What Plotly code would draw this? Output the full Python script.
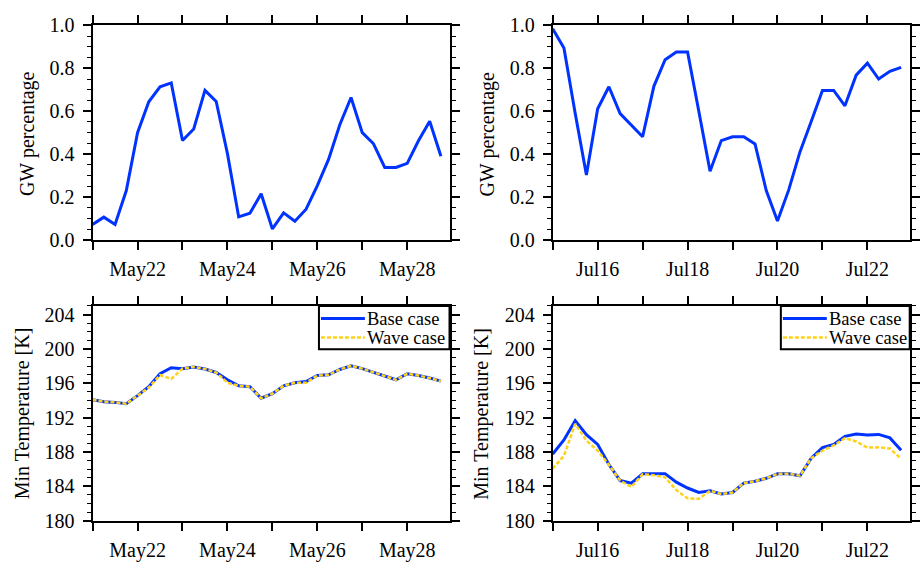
import pandas as pd
import plotly.graph_objects as go

# ---------------- data ----------------
may_times = pd.date_range("2000-05-21 00:00", periods=32, freq="6h")
jul_times = pd.date_range("2000-07-15 00:00", periods=32, freq="6h")

may_gw = [0.072, 0.106, 0.072, 0.23, 0.50, 0.644, 0.714, 0.732,
          0.463, 0.517, 0.697, 0.645, 0.402, 0.107, 0.124, 0.215,
          0.051, 0.126, 0.087, 0.143, 0.253, 0.375, 0.537, 0.664,
          0.50, 0.448, 0.338, 0.338, 0.357, 0.462, 0.553, 0.39]

jul_gw = [0.985, 0.895, 0.59, 0.302, 0.611, 0.714, 0.589, 0.537,
          0.481, 0.716, 0.84, 0.876, 0.876, 0.60, 0.32, 0.463,
          0.481, 0.481, 0.447, 0.23, 0.088, 0.233, 0.41, 0.552,
          0.697, 0.697, 0.625, 0.768, 0.824, 0.75, 0.786, 0.804]

may_base = [194.07, 193.85, 193.77, 193.62, 194.56, 195.6, 197.1, 197.8,
            197.7, 197.9, 197.65, 197.25, 196.4, 195.7, 195.6, 194.26,
            194.78, 195.7, 196.05, 196.2, 196.9, 196.98, 197.6, 198.03,
            197.7, 197.25, 196.8, 196.4, 197.1, 196.9, 196.6, 196.24]
may_wave = [194.07, 193.85, 193.77, 193.62, 194.56, 195.5, 196.95, 196.5,
            197.7, 197.9, 197.65, 197.25, 196.05, 195.7, 195.6, 194.26,
            194.78, 195.7, 196.05, 196.05, 196.9, 196.98, 197.6, 198.03,
            197.7, 197.25, 196.8, 196.4, 197.1, 196.9, 196.6, 196.24]

jul_base = [187.76, 189.4, 191.65, 190.0, 188.88, 186.53, 184.67, 184.37,
            185.45, 185.47, 185.47, 184.48, 183.8, 183.28, 183.47, 183.1,
            183.28, 184.37, 184.59, 184.93, 185.45, 185.47, 185.23, 187.28,
            188.5, 188.88, 189.82, 190.08, 189.97, 190.04, 189.63, 188.2]
jul_wave = [186.05, 187.54, 191.27, 189.33, 188.14, 186.5, 184.67, 183.92,
            185.4, 185.3, 185.04, 183.55, 182.6, 182.54, 183.47, 183.1,
            183.28, 184.37, 184.59, 184.93, 185.45, 185.47, 185.23, 187.28,
            188.14, 188.77, 189.6, 189.22, 188.5, 188.54, 188.4, 187.2]

may_tickvals = pd.date_range("2000-05-21", periods=9, freq="D")
may_ticktext = ["", "May22", "", "May24", "", "May26", "", "May28", ""]
jul_tickvals = pd.date_range("2000-07-15", periods=9, freq="D")
jul_ticktext = ["", "Jul16", "", "Jul18", "", "Jul20", "", "Jul22", ""]

may_range = ["2000-05-21 00:00", "2000-05-28 22:35"]
jul_range = ["2000-07-15 00:00", "2000-07-22 22:35"]

legend_names = ["Base case", "Wave case"]

BLUE = "#0033ff"
GOLD = "#ffd21a"
FONT = "Liberation Serif"
WAVE_DASH = "4px,2px"

fig = go.Figure()

# top panels
fig.add_trace(go.Scatter(x=may_times, y=may_gw, mode="lines", xaxis="x", yaxis="y",
                         line=dict(color=BLUE, width=3), showlegend=False))
fig.add_trace(go.Scatter(x=jul_times, y=jul_gw, mode="lines", xaxis="x2", yaxis="y2",
                         line=dict(color=BLUE, width=3), showlegend=False))
# bottom panels
fig.add_trace(go.Scatter(x=may_times, y=may_base, mode="lines", xaxis="x3", yaxis="y3",
                         name=legend_names[0], showlegend=False,
                         line=dict(color=BLUE, width=3)))
fig.add_trace(go.Scatter(x=may_times, y=may_wave, mode="lines", xaxis="x3", yaxis="y3",
                         name=legend_names[1], showlegend=False,
                         line=dict(color=GOLD, width=2.5, dash=WAVE_DASH)))
fig.add_trace(go.Scatter(x=jul_times, y=jul_base, mode="lines", xaxis="x4", yaxis="y4",
                         name=legend_names[0], showlegend=False,
                         line=dict(color=BLUE, width=3)))
fig.add_trace(go.Scatter(x=jul_times, y=jul_wave, mode="lines", xaxis="x4", yaxis="y4",
                         name=legend_names[1], showlegend=False,
                         line=dict(color=GOLD, width=2.5, dash=WAVE_DASH)))

W, H = 920, 573
xl = [92.7 / W, 450 / W]
xr = [553.3 / W, 910.7 / W]
yt = [1 - 238 / H, 1 - 15 / H]
yb = [1 - 530 / H, 1 - 306.7 / H]

def xaxis(domain, anchor, tv, tt, rng):
    return dict(domain=domain, anchor=anchor, type="date", range=rng,
                tickmode="array", tickvals=list(tv), ticktext=tt,
                ticks="outside", ticklen=8, tickwidth=1.5, tickcolor="black",
                showline=True, linecolor="black", linewidth=2, mirror="allticks",
                showgrid=False, zeroline=False, ticklabelstandoff=2,
                tickfont=dict(family=FONT, size=20, color="black"))

def yaxis(domain, anchor, rng, dtick, minor, fmt):
    return dict(domain=domain, anchor=anchor, range=rng, dtick=dtick, tick0=rng[0],
                tickformat=fmt,
                ticks="outside", ticklen=8, tickwidth=1.5, tickcolor="black",
                minor=dict(ticks="outside", ticklen=4, dtick=minor, tick0=rng[0],
                           tickcolor="black", tickwidth=1, showgrid=False),
                showline=True, linecolor="black", linewidth=2, mirror="allticks",
                showgrid=False, zeroline=False, ticklabelstandoff=4,
                tickfont=dict(family=FONT, size=20, color="black"))

fig.update_layout(
    width=W, height=H,
    margin=dict(l=0, r=0, t=0, b=0),
    paper_bgcolor="white", plot_bgcolor="white",
    font=dict(family=FONT, size=20, color="black"),
    showlegend=False,
    xaxis=xaxis(xl, "y", may_tickvals, may_ticktext, may_range),
    yaxis=yaxis(yt, "x", [0, 1], 0.2, 0.05, ".1f"),
    xaxis2=xaxis(xr, "y2", jul_tickvals, jul_ticktext, jul_range),
    yaxis2=yaxis(yt, "x2", [0, 1], 0.2, 0.05, ".1f"),
    xaxis3=xaxis(xl, "y3", may_tickvals, may_ticktext, may_range),
    yaxis3=yaxis(yb, "x3", [180, 205], 4, 1, "d"),
    xaxis4=xaxis(xr, "y4", jul_tickvals, jul_ticktext, jul_range),
    yaxis4=yaxis(yb, "x4", [180, 205], 4, 1, "d"),
)

# axis titles
for xc, yc, txt in [(27.5, 127.5, "GW percentage"), (488.5, 127.5, "GW percentage"),
                    (22, 418.3, "Min Temperature [K]"), (482, 418.3, "Min Temperature [K]")]:
    fig.add_annotation(x=xc / W, y=1 - yc / H, xref="paper", yref="paper",
                       text=txt, textangle=-90, showarrow=False,
                       font=dict(family=FONT, size=20, color="black"),
                       xanchor="center", yanchor="middle")

# legend boxes (NCL-style, top-right corner of each lower panel)
def px(x):
    return x / W

def py(y):
    return 1 - y / H

for box_left, right in [(319.3, 450.0), (781.7, 910.7)]:
    top, bottom = 306.7, 351.7
    fig.add_shape(type="rect", xref="paper", yref="paper",
                  x0=px(box_left), x1=px(right), y0=py(bottom), y1=py(top),
                  line=dict(color="black", width=2), fillcolor="white", layer="above")
    rows = [(319.8, BLUE, 3, "solid"), (339.5, GOLD, 2.5, WAVE_DASH)]
    for (ly, col, lw, dash), name in zip(rows, legend_names):
        fig.add_shape(type="line", xref="paper", yref="paper",
                      x0=px(box_left + 2), x1=px(box_left + 46), y0=py(ly), y1=py(ly),
                      line=dict(color=col, width=lw, dash=dash), layer="above")
        fig.add_annotation(x=px(box_left + 46.5), y=py(ly + 1), xref="paper", yref="paper",
                           text=name, showarrow=False, xanchor="left", yanchor="middle",
                           font=dict(family=FONT, size=18.5, color="black"))

fig.write_html("out.html")
